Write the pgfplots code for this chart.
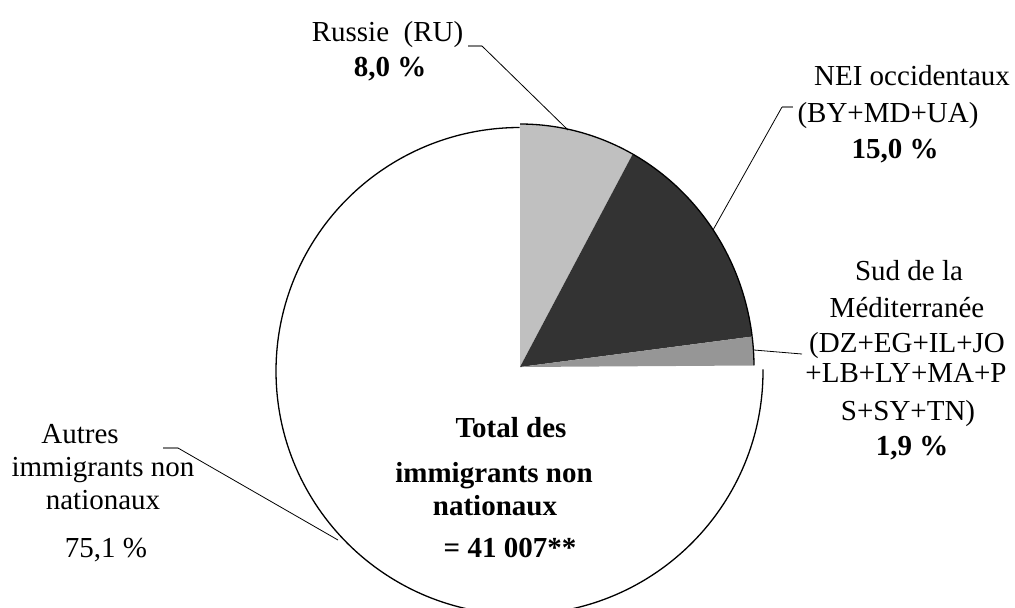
\documentclass[border=0pt]{standalone}
\usepackage{pgfplots}
\pgfplotsset{compat=1.18}
\usepackage{pgfplotstable}
\usepackage{fontspec}
\setmainfont{Liberation Serif}

% shares in percent, clockwise from 12 o'clock
\pgfplotstableread{
group share
RU    8.0
NEI   15.0
SUD   1.9
AUT   75.1
}\shares

\definecolor{cRU}{HTML}{C0C0C0}
\definecolor{cNEI}{HTML}{333333}
\definecolor{cSUD}{HTML}{969696}

\begin{document}
\begin{tikzpicture}[lbl/.style={anchor=base, inner sep=0pt, font=\fontsize{14.5}{18}\selectfont},
  slice/.style={x radius=117pt, y radius=121.5pt}]
% cumulative angles from the table
\pgfmathsetmacro\aA{90}
\pgfplotstablegetelem{0}{share}\of\shares \pgfmathsetmacro\aB{\aA-3.6*\pgfplotsretval}
\pgfplotstablegetelem{1}{share}\of\shares \pgfmathsetmacro\aC{\aB-3.6*\pgfplotsretval}
\pgfplotstablegetelem{2}{share}\of\shares \pgfmathsetmacro\aD{\aC-3.6*\pgfplotsretval}
\pgfplotstablegetelem{3}{share}\of\shares \pgfmathsetmacro\aE{\aD-3.6*\pgfplotsretval}
\begin{axis}[
    name=ax,
    width=507.5pt, height=303.5pt, scale only axis,
    xmin=0, xmax=1015, ymin=0, ymax=607, y dir=reverse,
    hide axis,
]
% Autres (white, slightly offset)
\fill[white] (axis cs:519.5,371) -- ++(\aD:121.75pt) arc[start angle=\aD, end angle=\aE, radius=121.75pt] -- cycle;
\draw[line width=0.65pt] (axis cs:519.5,371) ++(\aD:121.75pt) arc[start angle=\aD, end angle=\aE, radius=121.75pt];
% grey slices
\fill[cRU] (axis cs:520,367) -- ++(\aA:117pt and 121.5pt) arc[start angle=\aA, end angle=\aB, slice] -- cycle;
\draw[line width=0.65pt] (axis cs:520,367) ++(\aA:117pt and 121.5pt) arc[start angle=\aA, end angle=\aB, slice];
\fill[cNEI] (axis cs:520,367) -- ++(\aB:117pt and 121.5pt) arc[start angle=\aB, end angle=\aC, slice] -- cycle;
\draw[line width=0.65pt] (axis cs:520,367) ++(\aB:117pt and 121.5pt) arc[start angle=\aB, end angle=\aC, slice];
\fill[cSUD] (axis cs:520,367) -- ++(\aC:117pt and 121.5pt) arc[start angle=\aC, end angle=\aD, slice] -- cycle;
\draw[line width=0.65pt] (axis cs:520,367) ++(\aC:117pt and 121.5pt) arc[start angle=\aC, end angle=\aD, slice];
% leader lines
\draw[gray, line width=0.6pt] (axis cs:468,46) -- (axis cs:482,46);
\draw[line width=0.4pt] (axis cs:482,46) -- (axis cs:568,130);
\draw[gray, line width=0.6pt] (axis cs:793,107) -- (axis cs:782,107);
\draw[line width=0.4pt] (axis cs:782,107) -- (axis cs:713,230);
\draw[line width=0.4pt] (axis cs:754,350) -- (axis cs:802,354);
\draw[gray, line width=0.6pt] (axis cs:163,448) -- (axis cs:178,448);
\draw[line width=0.4pt] (axis cs:178,448) -- (axis cs:338,540);
% labels
\node[lbl] at (axis cs:387.5,41) {Russie\ \ (RU)};
\node[lbl] at (axis cs:390,76) {\bfseries 8,0 \%};
\node[lbl] at (axis cs:912,85) {NEI occidentaux};
\node[lbl] at (axis cs:888,122) {(BY+MD+UA)};
\node[lbl] at (axis cs:895,158) {\bfseries 15,0 \%};
\node[lbl] at (axis cs:909,280) {Sud de la};
\node[lbl] at (axis cs:907,317) {Méditerranée};
\node[lbl] at (axis cs:907,352) {(DZ+EG+IL+JO};
\node[lbl] at (axis cs:906,382) {+LB+LY+MA+P};
\node[lbl] at (axis cs:908,420) {S+SY+TN)};
\node[lbl] at (axis cs:912,455) {\bfseries 1,9 \%};
\node[lbl] at (axis cs:511,437) {\bfseries Total des};
\node[lbl] at (axis cs:494,482) {\bfseries immigrants non};
\node[lbl] at (axis cs:495,515) {\bfseries nationaux};
\node[lbl] at (axis cs:510,557) {\bfseries = 41 007**};
\node[lbl] at (axis cs:80,443) {Autres};
\node[lbl] at (axis cs:103,476) {immigrants non};
\node[lbl] at (axis cs:103,509) {nationaux};
\node[lbl] at (axis cs:106,557) {75,1 \%};
\end{axis}
\pgfresetboundingbox
\path (ax.south west) rectangle (ax.north east);
\end{tikzpicture}
\end{document}
